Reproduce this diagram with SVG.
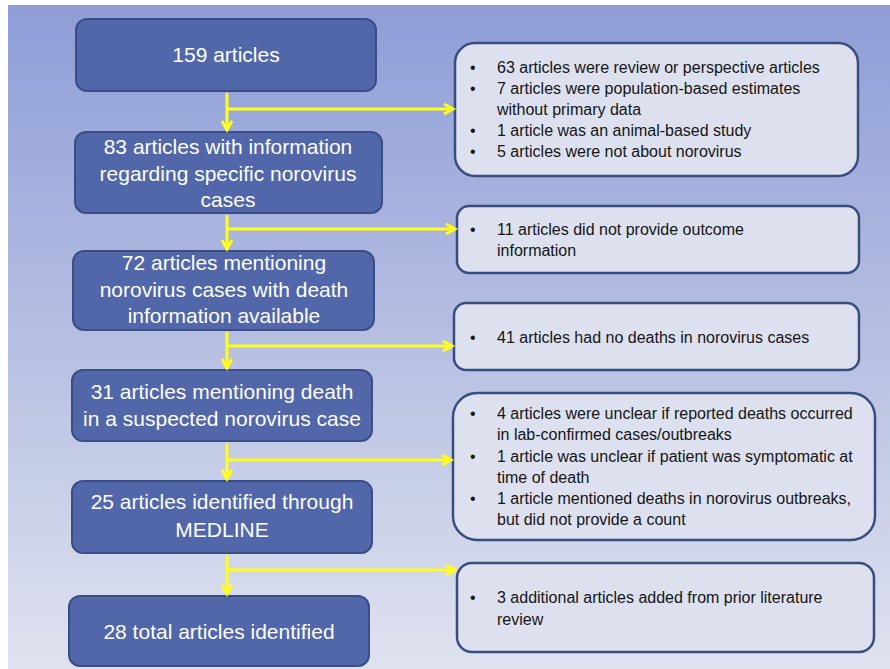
<svg xmlns="http://www.w3.org/2000/svg" width="890" height="669" viewBox="0 0 890 669">
<defs>
<linearGradient id="bg" x1="0" y1="0" x2="0" y2="1">
<stop offset="0" stop-color="#8e9dd7"/>
<stop offset="0.5" stop-color="#b6bfe2"/>
<stop offset="1" stop-color="#dfe2ef"/>
</linearGradient>
<marker id="ah" markerUnits="userSpaceOnUse" markerWidth="14" markerHeight="14" refX="10" refY="6" orient="auto">
<path d="M1,1 L10,6 L1,11" fill="none" stroke="#ffff1a" stroke-width="3"/>
</marker>
<style>
.main rect{fill:#5167a9;stroke:#3a4d86;stroke-width:2}
.main text{font-family:"Liberation Sans",Arial,sans-serif;font-size:21px;fill:#ffffff;text-anchor:middle}
.side rect{fill:#dde1ef;stroke:#3b4c7e;stroke-width:2.5}
.side text{font-family:"Liberation Sans",Arial,sans-serif;font-size:16px;fill:#151515}
.conn path{fill:none;stroke:#ffff1a;stroke-width:3}
</style>
</defs>
<rect x="0" y="0" width="890" height="669" fill="#ffffff"/>
<rect x="8" y="5" width="882" height="664" fill="url(#bg)"/>

<g id="n1" class="main"><rect x="76" y="19" width="300" height="72" rx="11"/><text x="226" y="62">159 articles</text></g>
<g id="n2" class="main"><rect x="75" y="132" width="307" height="81" rx="11"/><text x="228" y="154">83 articles with information</text><text x="228" y="181">regarding specific norovirus</text><text x="228" y="207">cases</text></g>
<g id="n3" class="main"><rect x="73" y="251" width="301" height="79" rx="11"/><text x="224" y="270">72 articles mentioning</text><text x="224" y="297">norovirus cases with death</text><text x="224" y="323">information available</text></g>
<g id="n4" class="main"><rect x="72" y="370" width="300" height="71" rx="11"/><text x="222" y="399">31 articles mentioning death</text><text x="222" y="426">in a suspected norovirus case</text></g>
<g id="n5" class="main"><rect x="72" y="481" width="300" height="72" rx="11"/><text x="222" y="509">25 articles identified through</text><text x="222" y="537">MEDLINE</text></g>
<g id="n6" class="main"><rect x="69" y="596" width="300" height="70" rx="11"/><text x="219" y="639">28 total articles identified</text></g>

<g id="s1" class="side"><rect x="455" y="43" width="403" height="133" rx="20"/>
<text x="470" y="73">•</text><text x="497" y="73">63 articles were review or perspective articles</text>
<text x="470" y="94">•</text><text x="497" y="94">7 articles were population-based estimates</text>
<text x="497" y="115">without primary data</text>
<text x="470" y="136">•</text><text x="497" y="136">1 article was an animal-based study</text>
<text x="470" y="157">•</text><text x="497" y="157">5 articles were not about norovirus</text></g>
<g id="s2" class="side"><rect x="457" y="206" width="402" height="67" rx="12"/>
<text x="470" y="235">•</text><text x="497" y="235">11 articles did not provide outcome</text>
<text x="497" y="256">information</text></g>
<g id="s3" class="side"><rect x="454" y="303" width="405" height="67" rx="12"/>
<text x="470" y="343">•</text><text x="497" y="343">41 articles had no deaths in norovirus cases</text></g>
<g id="s4" class="side"><rect x="453" y="393" width="422" height="147" rx="24"/>
<text x="470" y="419">•</text><text x="497" y="419">4 articles were unclear if reported deaths occurred</text>
<text x="497" y="440">in lab-confirmed cases/outbreaks</text>
<text x="470" y="462">•</text><text x="497" y="462">1 article was unclear if patient was symptomatic at</text>
<text x="497" y="483">time of death</text>
<text x="470" y="504">•</text><text x="497" y="504">1 article mentioned deaths in norovirus outbreaks,</text>
<text x="497" y="525">but did not provide a count</text></g>
<g id="s5" class="side"><rect x="457" y="563" width="417" height="89" rx="15"/>
<text x="470" y="603">•</text><text x="497" y="603">3 additional articles added from prior literature</text>
<text x="497" y="625">review</text></g>

<g id="connectors" class="conn">
<path d="M227,93 V130" marker-end="url(#ah)"/>
<path d="M227,109 H453" marker-end="url(#ah)"/>
<path d="M227,215 V249" marker-end="url(#ah)"/>
<path d="M227,229 H455" marker-end="url(#ah)"/>
<path d="M227,332 V368" marker-end="url(#ah)"/>
<path d="M227,346 H452" marker-end="url(#ah)"/>
<path d="M227,443 V479" marker-end="url(#ah)"/>
<path d="M227,460 H451" marker-end="url(#ah)"/>
<path d="M227,555 V594" marker-end="url(#ah)"/>
<path d="M227,570 H455" marker-end="url(#ah)"/>
</g>
</svg>
